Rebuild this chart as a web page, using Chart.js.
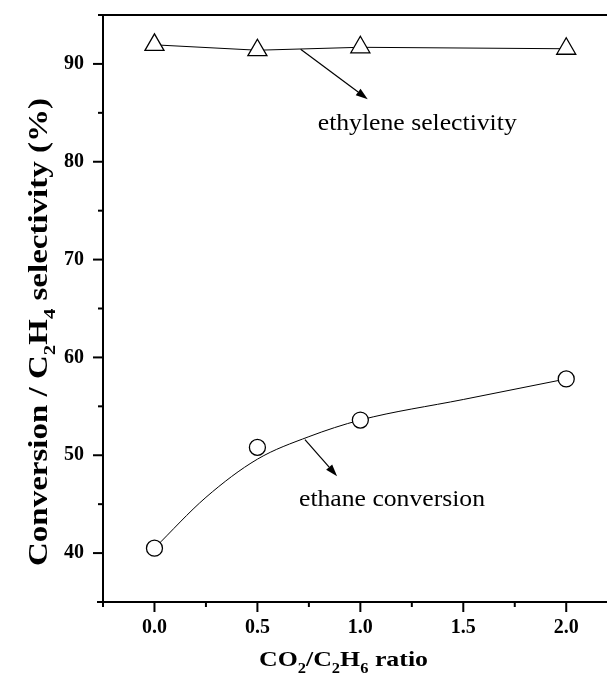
<!DOCTYPE html>
<html>
<head>
<meta charset="utf-8">
<script src="https://cdn.jsdelivr.net/npm/chart.js@4.4.0/dist/chart.umd.min.js"></script>
<style>
  html, body { margin: 0; padding: 0; background: #fff; overflow: hidden; }
  #quadro { width: 607px; height: 682px; overflow: hidden; }
</style>
</head>
<body>
<div id="quadro"><canvas id="grafico" width="630" height="682"></canvas></div>
<script>
// CO2/C2H6 ratio
const RATIO        = [0, 0.5, 1.0, 2.0];
// ethylene selectivity (%) - triangles
const SELETIVIDADE = [91.95, 91.4, 91.7, 91.55];
// ethane conversion (%) - circles
const CONVERSAO    = [40.5, 50.8, 53.6, 57.8];
// smooth fitted curve drawn through the conversion points
const AJUSTE_X     = [0, 0.25, 0.5, 0.75, 1.0, 1.5, 2.0];
const AJUSTE_Y     = [40.5, 45.7, 49.6, 51.9, 53.6, 55.7, 57.8];

const X_LABELS = [0, 0.5, 1.0, 1.5, 2.0];
const Y_LABELS = [40, 50, 60, 70, 80, 90];

const FONTE = '"Liberation Serif", Tinos, "Times New Roman", serif';

function proximo(v, lista) {
  return lista.some(l => Math.abs(l - v) < 1e-6);
}

// draws text with subscripts, left/baseline at current origin, stretched to a target width
function textoRico(ctx, partes, tam, negrito, larguraAlvo) {
  const fonte = sub => `${negrito ? "bold " : ""}${sub ? Math.round(tam * 0.62) : tam}px ${FONTE}`;
  let largura = 0;
  partes.forEach(p => { ctx.font = fonte(p.sub); largura += ctx.measureText(p.t).width; });
  const esc = larguraAlvo ? larguraAlvo / largura : 1;
  ctx.save();
  ctx.scale(esc, 1);
  ctx.fillStyle = "#000";
  ctx.textBaseline = "alphabetic";
  ctx.textAlign = "left";
  let x = 0;
  partes.forEach(p => {
    ctx.font = fonte(p.sub);
    ctx.fillText(p.t, x, p.sub ? tam * 0.3 : 0);
    x += ctx.measureText(p.t).width;
  });
  ctx.restore();
}

function seta(ctx, x1, y1, x2, y2) {
  const ang = Math.atan2(y2 - y1, x2 - x1);
  const comp = 12, larg = 4;
  ctx.beginPath();
  ctx.moveTo(x1, y1);
  ctx.lineTo(x2 - Math.cos(ang) * comp, y2 - Math.sin(ang) * comp);
  ctx.stroke();
  ctx.beginPath();
  ctx.moveTo(x2, y2);
  ctx.lineTo(x2 - Math.cos(ang) * comp - Math.sin(ang) * larg, y2 - Math.sin(ang) * comp + Math.cos(ang) * larg);
  ctx.lineTo(x2 - Math.cos(ang) * comp + Math.sin(ang) * larg, y2 - Math.sin(ang) * comp - Math.cos(ang) * larg);
  ctx.closePath();
  ctx.fill();
}

const eixos = {
  id: "eixos",
  afterDraw(chart) {
    const { ctx, chartArea: a, scales } = chart;
    ctx.save();
    ctx.strokeStyle = "#000";
    ctx.lineWidth = 2;
    ctx.beginPath();
    ctx.moveTo(a.left, a.top);
    ctx.lineTo(a.right, a.top);
    ctx.moveTo(a.left, a.top);
    ctx.lineTo(a.left, a.bottom + 2);
    ctx.moveTo(a.left - 6, a.bottom);
    ctx.lineTo(a.right, a.bottom);
    ctx.stroke();

    scales.x.ticks.forEach(t => {
      if (t.value > 2.0 + 1e-6) return;
      const px = scales.x.getPixelForValue(t.value);
      const len = proximo(t.value, X_LABELS) ? 10 : 5;
      ctx.beginPath();
      ctx.moveTo(px, a.bottom);
      ctx.lineTo(px, a.bottom + len);
      ctx.stroke();
    });
    scales.y.ticks.forEach(t => {
      const py = scales.y.getPixelForValue(t.value);
      const len = proximo(t.value, Y_LABELS) ? 10 : 5;
      ctx.beginPath();
      ctx.moveTo(a.left, py);
      ctx.lineTo(a.left - len, py);
      ctx.stroke();
    });

    // axis titles
    ctx.save();
    ctx.translate(259, 666);
    textoRico(ctx, [
      { t: "CO" }, { t: "2", sub: true }, { t: "/C" }, { t: "2", sub: true },
      { t: "H" }, { t: "6", sub: true }, { t: " ratio" }
    ], 22, true, 169);
    ctx.restore();

    ctx.save();
    ctx.translate(47, 566);
    ctx.rotate(-Math.PI / 2);
    textoRico(ctx, [
      { t: "Conversion / C" }, { t: "2", sub: true }, { t: "H" }, { t: "4", sub: true },
      { t: " selectivity (%)" }
    ], 27, true, 468);
    ctx.restore();
    ctx.restore();
  }
};

const anotacoes = {
  id: "anotacoes",
  afterDatasetsDraw(chart) {
    const { ctx, scales: { x, y } } = chart;
    ctx.save();
    ctx.strokeStyle = "#000";
    ctx.fillStyle = "#000";
    ctx.lineWidth = 1.2;
    seta(ctx, x.getPixelForValue(0.71), y.getPixelForValue(91.5), x.getPixelForValue(1.036), y.getPixelForValue(86.4));
    seta(ctx, x.getPixelForValue(0.731), y.getPixelForValue(51.6), x.getPixelForValue(0.887), y.getPixelForValue(47.86));

    ctx.save();
    ctx.translate(x.getPixelForValue(0.793), y.getPixelForValue(83.27));
    textoRico(ctx, [{ t: "ethylene selectivity" }], 24, false, 199);
    ctx.restore();

    ctx.save();
    ctx.translate(x.getPixelForValue(0.702), y.getPixelForValue(44.83));
    textoRico(ctx, [{ t: "ethane conversion" }], 24, false, 186);
    ctx.restore();
    ctx.restore();
  }
};

new Chart(document.getElementById("grafico"), {
  type: "scatter",
  data: {
    datasets: [
      {
        label: "ethylene selectivity",
        data: RATIO.map((v, i) => ({ x: v, y: SELETIVIDADE[i] })),
        showLine: true,
        borderColor: "#000",
        borderWidth: 1,
        pointStyle: "triangle",
        pointRadius: 11,
        pointBackgroundColor: "#fff",
        pointBorderColor: "#000",
        pointBorderWidth: 1.3,
        order: 1,
      },
      {
        label: "ethane conversion",
        data: RATIO.map((v, i) => ({ x: v, y: CONVERSAO[i] })),
        showLine: false,
        pointStyle: "circle",
        pointRadius: 8,
        pointBackgroundColor: "#fff",
        pointBorderColor: "#000",
        pointBorderWidth: 1.3,
        order: 2,
      },
      {
        label: "fit",
        data: AJUSTE_X.map((v, i) => ({ x: v, y: AJUSTE_Y[i] })),
        showLine: true,
        borderColor: "#000",
        borderWidth: 1,
        pointRadius: 0,
        cubicInterpolationMode: "monotone",
        order: 3,
      },
    ]
  },
  options: {
    responsive: false,
    animation: false,
    devicePixelRatio: 1,
    layout: { padding: { top: 15, left: 0, right: 0, bottom: 0 } },
    plugins: { legend: { display: false }, tooltip: { enabled: false } },
    scales: {
      x: {
        type: "linear",
        min: -0.25,
        max: 2.25,
        afterFit: s => { s.height = 80; s.paddingLeft = 0; s.paddingRight = 0; },
        grid: { display: false, drawTicks: false },
        border: { display: false },
        ticks: {
          stepSize: 0.25,
          includeBounds: false,
          autoSkip: false,
          maxRotation: 0,
          padding: 14,
          color: "#000",
          font: { family: FONTE, size: 20, weight: "bold" },
          callback: v => proximo(v, X_LABELS) ? v.toFixed(1) : "",
        }
      },
      y: {
        min: 35,
        max: 95,
        afterFit: s => { s.width = 103; s.paddingTop = 0; s.paddingBottom = 0; },
        grid: { display: false, drawTicks: false },
        border: { display: false },
        ticks: {
          stepSize: 5,
          autoSkip: false,
          padding: 19,
          color: "#000",
          font: { family: FONTE, size: 20, weight: "bold" },
          callback: v => proximo(v, Y_LABELS) ? String(v) : "",
        }
      }
    }
  },
  plugins: [eixos, anotacoes]
});
</script>
</body>
</html>
